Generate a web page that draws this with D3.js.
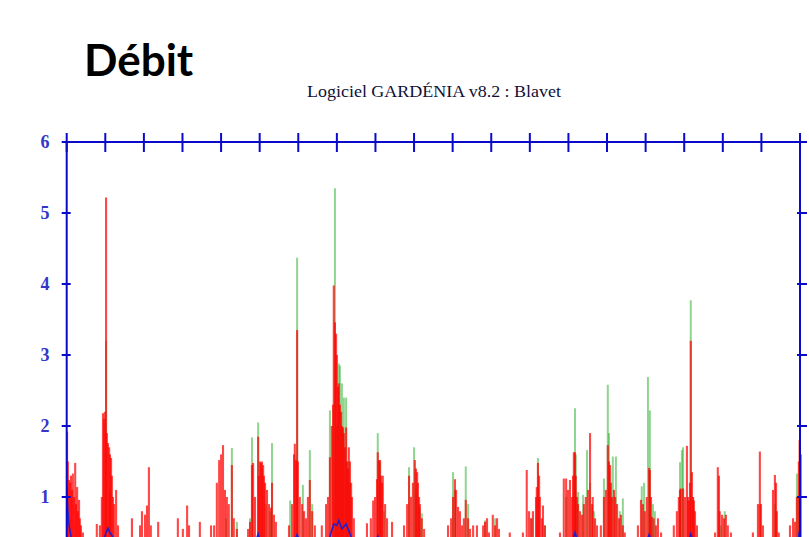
<!DOCTYPE html>
<html><head><meta charset="utf-8">
<script src="https://cdn.jsdelivr.net/npm/d3@7/dist/d3.min.js"></script>
<style>body{margin:0;background:#fff}svg{display:block}</style>
</head><body>
<svg id="c" width="809" height="537"></svg>
<script>
// ---- data (time in years since start of record, débit in m3/s) ----
const yearTicks = d3.range(0, 20);           // 0..19
const yTicks = [1, 2, 3, 4, 5, 6];
const yLabels = ["1", "2", "3", "4", "5", "6"];

// simulated débit (red)
const redT = [0.01,0.03,0.06,0.09,0.11,0.14,0.16,0.19,0.22,0.24,0.27,0.29,0.32,0.34,0.37,0.42,
0.78,0.86,0.91,0.94,0.97,0.99,1.02,1.04,1.07,1.10,1.12,1.15,1.17,1.20,1.23,1.28,1.33,
1.69,1.90,1.95,2.03,2.08,2.13,2.18,2.37,
2.88,3.01,3.12,3.17,3.45,
3.74,3.82,3.89,3.95,4.00,4.05,4.10,4.15,4.20,4.28,4.33,4.41,
4.70,4.75,4.80,4.83,4.88,4.96,4.98,5.01,5.03,5.06,5.09,5.11,5.14,5.19,5.24,5.29,5.32,5.37,5.42,
5.76,5.84,5.89,5.91,5.94,5.97,5.99,6.04,6.10,6.15,6.20,6.25,6.30,6.36,6.43,
6.61,6.72,6.77,6.82,6.87,6.90,6.92,6.95,6.98,7.00,7.03,7.05,7.08,7.11,7.13,7.16,7.18,7.21,7.24,7.26,7.29,7.31,7.34,7.37,7.39,7.44,
7.78,7.88,7.94,7.99,8.04,8.06,8.09,8.12,8.14,8.17,8.19,8.25,8.30,8.43,
8.74,8.82,8.87,8.92,8.97,9.02,9.05,9.08,9.10,9.13,9.15,9.20,9.26,
9.88,9.96,10.01,10.06,10.09,10.14,10.19,10.24,10.29,10.34,10.40,10.45,10.53,10.63,
10.79,10.84,10.89,10.94,11.04,11.10,11.15,11.20,
11.48,11.82,11.92,11.98,12.03,12.08,12.16,12.18,12.21,12.24,12.26,12.31,12.34,12.39,
12.78,12.88,12.94,12.99,13.04,13.09,13.12,13.14,13.17,13.19,13.22,13.25,13.30,13.35,13.40,13.45,13.51,13.56,13.61,13.63,13.69,13.74,
13.84,13.92,13.97,14.02,14.05,14.08,14.10,14.13,14.18,14.21,14.26,14.31,14.36,14.41,14.46,
14.80,14.88,14.93,14.98,15.03,15.09,15.11,15.14,15.16,15.21,15.27,15.32,15.40,
15.73,15.81,15.86,15.89,15.91,15.97,16.02,16.07,16.10,16.12,16.15,16.17,16.20,16.23,16.25,16.28,16.33,
16.80,16.87,16.90,16.92,16.98,17.03,17.08,17.13,17.21,
17.78,17.91,17.96,17.99,18.04,18.30,18.35,18.38,18.40,18.45,
18.74,18.82,18.87,18.92,18.97,18.99,19.02];
const redV = [1.92,1.5,1.24,1.2,1.3,1.1,1.33,1.0,1.48,0.9,1.14,0.8,0.96,0.7,0.6,0.5,
0.62,0.6,1.0,2.18,2.1,2.2,5.22,1.9,1.76,1.7,1.6,1.55,1.3,1.0,0.9,1.1,0.6,
0.7,0.6,0.8,0.75,0.88,1.42,0.6,0.65,
0.7,0.55,0.88,0.6,0.65,
0.6,0.6,1.2,1.52,1.6,1.73,1.1,1.0,0.9,1.45,0.7,0.55,
0.55,0.65,1.45,1.48,1.0,1.85,1.3,1.5,1.48,1.5,1.45,1.3,1.2,1.1,0.9,0.85,1.2,0.75,0.65,
0.6,0.9,1.6,1.75,1.52,3.35,1.5,1.0,0.9,0.8,0.7,1.0,1.24,0.8,0.6,
0.6,0.9,1.0,1.56,2.0,2.3,3.98,3.46,3.3,3.0,2.55,2.6,2.3,2.2,2.0,1.98,1.9,1.7,1.98,1.5,1.4,1.7,1.5,1.2,1.0,0.7,
0.63,0.7,0.95,1.0,1.25,1.63,1.52,1.52,1.3,1.2,1.3,0.9,0.7,0.65,
0.6,0.9,1.3,1.0,1.2,1.52,1.4,1.35,1.2,1.0,0.9,0.7,0.55,
0.6,0.7,1.0,1.25,1.1,0.86,0.8,0.6,0.7,0.96,0.7,0.55,0.6,0.6,
0.6,0.65,0.7,0.5,0.75,0.6,0.7,0.55,
0.5,0.5,1.38,0.8,0.7,0.8,1.0,1.14,1.48,1.3,1.0,0.7,0.88,0.6,
0.5,1.26,1.26,1.1,1.24,1.0,1.3,1.63,1.63,1.3,1.0,0.9,0.8,0.75,0.9,1.0,1.1,1.9,0.9,1.0,0.7,0.6,
0.6,1.0,1.1,1.73,1.5,1.45,1.2,1.0,1.1,1.0,0.9,0.7,0.75,0.6,0.5,
0.6,0.96,0.9,0.8,1.0,1.41,1.38,1.0,0.72,0.7,0.6,0.7,0.5,
0.6,0.8,1.0,1.1,1.12,1.12,1.0,1.72,1.0,0.95,1.2,3.2,1.35,1.0,0.95,0.8,0.6,
0.5,1.42,1.3,0.8,0.75,0.7,0.75,0.6,0.5,
0.5,0.9,1.64,0.9,0.6,1.1,1.31,1.2,0.8,0.5,
0.6,0.7,0.65,1.0,1.5,1.8,1.6];

// observed débit (green)
const greenT = [1.02,1.12,
4.13,4.28,4.41,
4.75,4.80,4.96,5.06,5.16,5.27,5.32,
5.79,5.97,6.12,6.30,6.36,
6.82,6.95,7.00,7.05,7.08,7.13,7.18,7.24,7.29,7.34,
8.06,8.12,8.22,
8.87,9.00,9.05,9.15,9.20,
10.01,10.06,10.34,10.40,
10.84,11.10,
12.05,12.21,12.39,
12.94,13.17,13.19,13.25,13.38,13.48,13.56,13.66,
13.92,14.02,14.05,14.15,14.23,14.33,14.41,
14.90,14.96,15.06,15.11,15.19,15.24,
15.89,15.94,15.97,16.17,16.23,
16.95,17.05,
17.96,18.35,
18.92,18.97];
const greenV = [3.2,1.1,
0.7,1.69,0.65,
0.7,1.84,2.05,1.4,0.9,0.8,1.76,
0.95,4.37,1.17,1.66,0.9,
2.22,5.35,2.0,2.88,2.85,2.6,2.4,2.4,1.5,1.2,
1.9,1.5,0.8,
1.42,1.7,1.1,0.85,0.77,
1.35,1.1,1.43,0.9,
0.67,0.7,
0.7,1.55,0.6,
1.0,2.25,1.6,1.07,1.03,1.66,1.2,0.8,
1.26,2.58,1.9,1.57,1.57,0.8,0.98,
1.15,1.2,2.69,2.22,0.9,0.8,
1.49,1.66,1.7,3.77,1.0,
0.6,0.8,
0.9,0.9,
1.33,1.0];

// third component (blue)
const blueT = [0,0.03,0.06,0.12,0.3,0.9,1.02,1.07,1.12,1.3,2.0,4.0,4.9,4.96,5.02,5.9,5.97,6.04,6.8,6.85,6.92,7.0,7.05,7.13,7.24,7.4,8.0,8.06,8.12,9.0,10.0,13.1,13.17,13.24,15.03,15.09,15.15,16.11,16.17,16.23,18.0,18.95,19.0];
const blueV = [1.15,0.8,0.6,0.42,0.35,0.3,0.5,0.56,0.5,0.35,0.25,0.3,0.38,0.48,0.38,0.38,0.47,0.38,0.4,0.5,0.62,0.6,0.67,0.55,0.62,0.4,0.36,0.45,0.36,0.3,0.3,0.38,0.5,0.38,0.38,0.47,0.38,0.38,0.48,0.38,0.3,0.4,0.55];

const title = "Débit";
const subtitle = "Logiciel GARDÉNIA v8.2 : Blavet";

// ---- drawing ----
const svg = d3.select("#c");
const pLeft = 66.7, pRight = 800, pTop = 142, pZero = 568;
const x = d3.scaleLinear().domain([0, 19]).range([pLeft, pRight]);
const y = d3.scaleLinear().domain([0, 6]).range([pZero, pTop]);
const axisBlue = "#0a0acc";

svg.append("text").attr("x", 84).attr("y", 76)
  .attr("font-family", "Lato, 'Open Sans', sans-serif").attr("font-weight", 700)
  .attr("font-size", 44).attr("fill", "#000").text(title);

svg.append("text").attr("x", 307).attr("y", 97)
  .attr("font-family", "'Liberation Serif', 'DejaVu Serif', serif")
  .attr("font-size", 16).attr("fill", "#101035")
  .attr("textLength", 254).attr("lengthAdjust", "spacingAndGlyphs")
  .text(subtitle);

const plot = svg.append("g");

// green needles
plot.selectAll("line.g").data(greenT.map((t, i) => [t, greenV[i]])).join("line")
  .attr("class", "g")
  .attr("x1", d => x(d[0])).attr("x2", d => x(d[0]))
  .attr("y1", y(0)).attr("y2", d => y(d[1]))
  .attr("stroke", "#22aa22").attr("stroke-opacity", 0.5).attr("stroke-width", 2);

// red needles
plot.selectAll("line.r").data(redT.map((t, i) => [t, redV[i]])).join("line")
  .attr("class", "r")
  .attr("x1", d => x(d[0])).attr("x2", d => x(d[0]))
  .attr("y1", y(0)).attr("y2", d => y(d[1]))
  .attr("stroke", "#ff0000").attr("stroke-opacity", 0.72).attr("stroke-width", 2.1);

// blue line
plot.append("path").datum(blueT.map((t, i) => [t, blueV[i]]))
  .attr("fill", "none").attr("stroke", "#2020d0").attr("stroke-width", 1.6)
  .attr("d", d3.line().x(d => x(d[0])).y(d => y(d[1])));

// axes frame
const ax = svg.append("g").attr("stroke", axisBlue).attr("stroke-width", 2).attr("fill", "none");
ax.append("line").attr("x1", x(0)).attr("x2", x(19)).attr("y1", y(6)).attr("y2", y(6));
ax.append("line").attr("x1", x(0)).attr("x2", x(0)).attr("y1", y(6)).attr("y2", y(0));
ax.append("line").attr("x1", x(19)).attr("x2", x(19)).attr("y1", y(6)).attr("y2", y(0));

// top crossing ticks
ax.selectAll("line.tt").data(yearTicks).join("line").attr("class", "tt")
  .attr("x1", d => x(d)).attr("x2", d => x(d))
  .attr("y1", y(6) - 9).attr("y2", y(6) + 10);
// left & right ticks
ax.selectAll("line.lt").data(yTicks).join("line").attr("class", "lt")
  .attr("x1", x(0) - 5).attr("x2", x(0) + 4)
  .attr("y1", d => y(d)).attr("y2", d => y(d));
ax.selectAll("line.rt").data(yTicks).join("line").attr("class", "rt")
  .attr("x1", x(19) - 3).attr("x2", x(19) + 7)
  .attr("y1", d => y(d)).attr("y2", d => y(d));

// y labels
svg.selectAll("text.yl").data(yTicks).join("text").attr("class", "yl")
  .attr("x", 45).attr("y", d => y(d)).attr("dy", "0.35em")
  .attr("text-anchor", "middle")
  .attr("font-family", "'Liberation Serif', serif").attr("font-weight", 700)
  .attr("font-size", 18).attr("fill", "#3535c8")
  .text((d, i) => yLabels[i]);
</script>
</body></html>
